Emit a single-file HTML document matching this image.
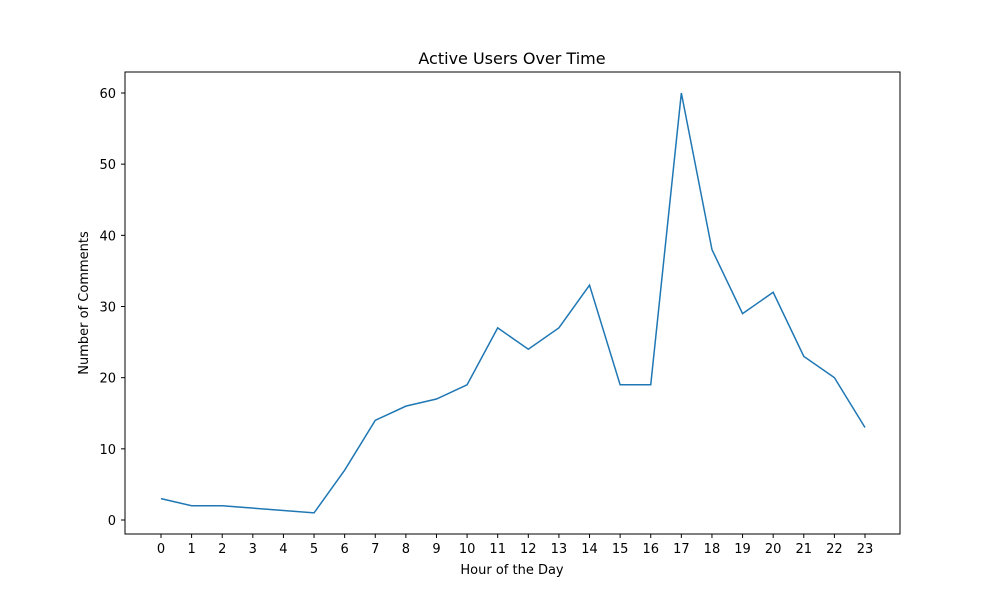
<!DOCTYPE html>
<html><head><meta charset="utf-8"><style>
body{margin:0;background:#fff;}
svg text{font-family:"DejaVu Sans","Liberation Sans",sans-serif;fill:#000;}
</style></head><body>
<svg id="chart" width="1000" height="600">
<rect x="0" y="0" width="1000" height="600" fill="#fff"/>
<text x="512" y="64" text-anchor="middle" font-size="16">Active Users Over Time</text>
<g id="ticks"></g>
<path id="line" fill="none" stroke="#1f77b4" stroke-width="1.5"/>
<rect x="125" y="72" width="775" height="462" fill="none" stroke="#000" stroke-width="1"/>
<text x="512" y="574" text-anchor="middle" font-size="13">Hour of the Day</text>
<text transform="translate(88,303) rotate(-90)" text-anchor="middle" font-size="13">Number of Comments</text>
</svg>
<script>
const hours=[0,1,2,5,6,7,8,9,10,11,12,13,14,15,16,17,18,19,20,21,22,23];
const comments=[3,2,2,1,7,14,16,17,19,27,24,27,33,19,19,60,38,29,32,23,20,13];
const xTicks=[0,1,2,3,4,5,6,7,8,9,10,11,12,13,14,15,16,17,18,19,20,21,22,23];
const yTicks=[0,10,20,30,40,50,60];
const xs=h=>161+h*(865-161)/23;
const ys=v=>520-v*(520-93)/60;
const NS="http://www.w3.org/2000/svg";
const g=document.getElementById('ticks');
xTicks.forEach(t=>{
 const l=document.createElementNS(NS,'line');
 l.setAttribute('x1',xs(t));l.setAttribute('x2',xs(t));l.setAttribute('y1',534);l.setAttribute('y2',538);l.setAttribute('stroke','#000');
 
 
 g.appendChild(l);
 const tx=document.createElementNS(NS,'text');
 tx.setAttribute('x',xs(t));tx.setAttribute('y',553);tx.setAttribute('text-anchor','middle');tx.setAttribute('font-size','13');tx.textContent=t;
 
 
 g.appendChild(tx);
});
yTicks.forEach(t=>{
 const l=document.createElementNS(NS,'line');
 l.setAttribute('x1',121);l.setAttribute('x2',125);l.setAttribute('y1',ys(t));l.setAttribute('y2',ys(t));l.setAttribute('stroke','#000');
 
 
 g.appendChild(l);
 const tx=document.createElementNS(NS,'text');
 tx.setAttribute('x',116);tx.setAttribute('y',ys(t)+5);tx.setAttribute('text-anchor','end');tx.setAttribute('font-size','13');tx.textContent=t;
 
 
 g.appendChild(tx);
});
document.getElementById('line').setAttribute('d',hours.map((h,i)=>(i?'L':'M')+xs(h)+','+ys(comments[i])).join(' '));
</script>
</body></html>
